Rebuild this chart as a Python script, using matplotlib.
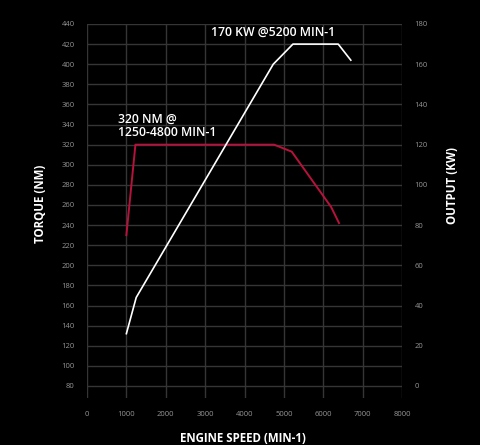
import matplotlib
matplotlib.use("Agg")
import matplotlib.pyplot as plt

# engine data
torque_rpm = [1000, 1230, 4750, 5200, 6200, 6400]
torque_nm = [230, 320, 320, 313, 258, 242]

power_rpm = [1000, 1250, 4730, 5230, 6380, 6700]
power_kw = [26, 44, 160, 170, 170, 162]

x_ticks = [0, 1000, 2000, 3000, 4000, 5000, 6000, 7000, 8000]
torque_ticks = list(range(80, 441, 20))
power_ticks = list(range(0, 181, 20))

BG = "black"
GRID = "#353535"
TICK = "#959595"
RED = "#b8123c"
FONT = "Open Sans"

plt.rcParams["font.family"] = [FONT, "DejaVu Sans"]

fig = plt.figure(figsize=(4.8, 4.45), dpi=100, facecolor=BG)
ax = fig.add_axes([87 / 480, 1 - 398 / 445, 315 / 480, 374 / 445])
ax.set_facecolor(BG)

ax.plot(torque_rpm, torque_nm, color=RED, lw=1.4, zorder=3)

ax.set_xlim(0, 8000)
ax.set_ylim(68, 440)
ax.set_xticks(x_ticks)
ax.set_yticks(torque_ticks)
ax.grid(True, color=GRID, lw=1)
ax.set_axisbelow(True)
ax.tick_params(length=0, colors=TICK, labelsize=5.5, pad=9)
for s in ax.spines.values():
    s.set_visible(False)

ax2 = ax.twinx()
ax2.plot(power_rpm, power_kw, color="white", lw=1.2, zorder=3)
ax2.set_ylim((68 - 80) / 2, 180)
ax2.set_yticks(power_ticks)
ax2.tick_params(length=0, colors=TICK, labelsize=5.5, pad=9)
for s in ax2.spines.values():
    s.set_visible(False)

# annotations
ax.text(790, 326, "320 NM @\n1250-4800 MIN-1", color="white", fontsize=8.8,
        fontweight="semibold", va="bottom", ha="left", linespacing=0.95)
ax2.text(3150, 172.5, "170 KW @5200 MIN-1", color="white", fontsize=8.8,
         fontweight="semibold", va="bottom", ha="left")

# axis titles
fig.text(40 / 480, 1 - 204 / 445, "TORQUE (NM)", color="white", fontsize=8.3,
         fontweight="bold", rotation=90, ha="center", va="center")
fig.text(452 / 480, 1 - 185 / 445, "OUTPUT (KW)", color="white", fontsize=8.3,
         fontweight="bold", rotation=90, ha="center", va="center")
fig.text(243 / 480, 1 - 438 / 445, "ENGINE SPEED (MIN-1)", color="white",
         fontsize=8.3, fontweight="bold", ha="center", va="center")

fig.savefig("out.png", dpi=100, facecolor=BG)
